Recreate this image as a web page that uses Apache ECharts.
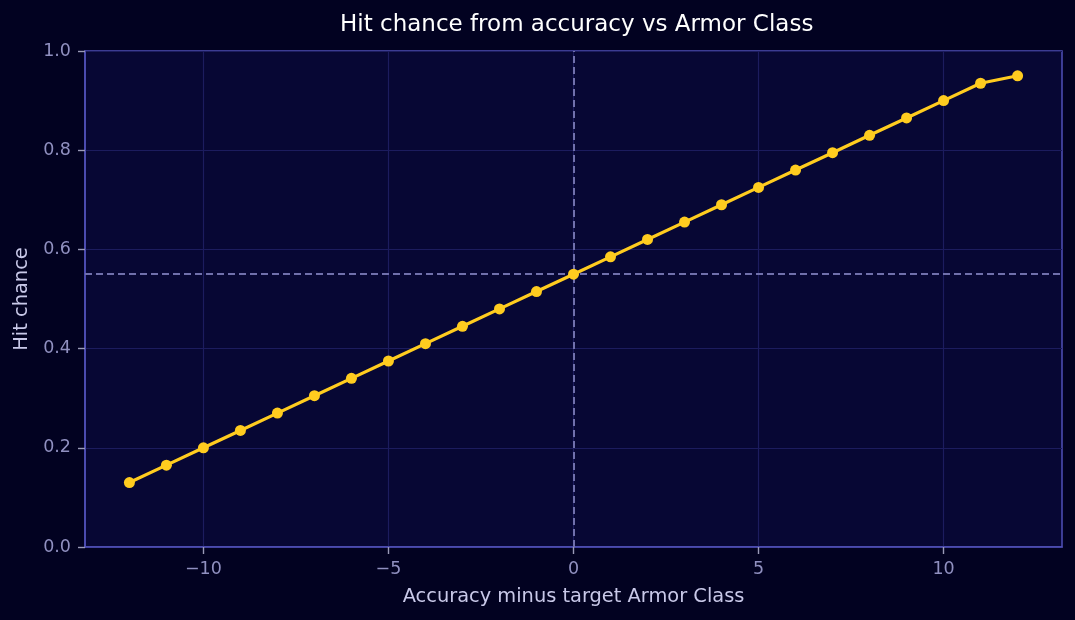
<!DOCTYPE html>
<html><head><meta charset="utf-8">
<script src="https://cdn.jsdelivr.net/npm/echarts@6/dist/echarts.min.js"></script>
<style>html,body{margin:0;padding:0;background:#020221;}#c{width:1075px;height:620px;}</style>
</head><body><div id="c"></div>
<script>
const diffs = [-12,-11,-10,-9,-8,-7,-6,-5,-4,-3,-2,-1,0,1,2,3,4,5,6,7,8,9,10,11,12];
const hitChance = [0.13,0.165,0.20,0.235,0.27,0.305,0.34,0.375,0.41,0.445,0.48,0.515,0.55,0.585,0.62,0.655,0.69,0.725,0.76,0.795,0.83,0.865,0.90,0.935,0.95];
const xTicks = [-10,-5,0,5,10];
const yTicks = [0,0.2,0.4,0.6,0.8,1.0];
const refX = 0, refY = 0.55;

const chart = echarts.init(document.getElementById('c'));
const fmtX = v => (v < 0 ? '\u2212' + Math.abs(v) : String(v));
const FONT = '"DejaVu Sans", sans-serif';
chart.setOption({
  backgroundColor: '#020221',
  animation: false,
  title: { text: 'Hit chance from accuracy vs Armor Class', left: 335, top: 9,
    textStyle: { color: '#ffffff', fontSize: 23, fontWeight: 'normal', fontFamily: FONT } },
  grid: { left: 85, right: 13, top: 51, bottom: 73, show: true, backgroundColor: '#070734', borderColor: '#5050b8', borderWidth: 1.5 },
  xAxis: {
    type: 'value', min: -13.2, max: 13.2,
    name: 'Accuracy minus target Armor Class', nameLocation: 'middle', nameGap: 40,
    nameTextStyle: { color: '#c8c8e8', fontSize: 19.4, fontFamily: FONT },
    axisLine: { show: true, onZero: false, lineStyle: { color: '#5050b8', width: 1.5 } },
    axisTick: { show: true, customValues: xTicks, length: 7, lineStyle: { color: '#9a9ab8', width: 1.4 } },
    axisLabel: { customValues: xTicks, formatter: fmtX, color: '#9090c0', fontSize: 17.5, fontFamily: FONT, margin: 13 },
    splitLine: { show: true, lineStyle: { color: '#1c1c5e', width: 1.2 } }
  },
  yAxis: {
    type: 'value', min: 0, max: 1, interval: 0.2,
    name: 'Hit chance', nameLocation: 'middle', nameGap: 54,
    nameTextStyle: { color: '#c8c8e8', fontSize: 19.4, fontFamily: FONT },
    axisLine: { show: true, onZero: false, lineStyle: { color: '#5050b8', width: 1.5 } },
    axisTick: { show: true, length: 7, lineStyle: { color: '#9a9ab8', width: 1.4 } },
    axisLabel: { formatter: v => v.toFixed(1), color: '#9090c0', fontSize: 17.5, fontFamily: FONT, margin: 14 },
    splitLine: { show: true, lineStyle: { color: '#1c1c5e', width: 1.2 } }
  },
  series: [{
    type: 'line',
    data: diffs.map((d, i) => [d, hitChance[i]]),
    symbol: 'circle', symbolSize: 11,
    lineStyle: { color: '#ffcc1f', width: 3.2 },
    itemStyle: { color: '#ffcc1f' },
    z: 5,
    markLine: {
      silent: true, symbol: 'none', label: { show: false }, z: 3,
      lineStyle: { color: '#7070ac', type: [7, 4], width: 2 },
      data: [{ xAxis: refX }, { yAxis: refY }]
    }
  }]
});
</script></body></html>
